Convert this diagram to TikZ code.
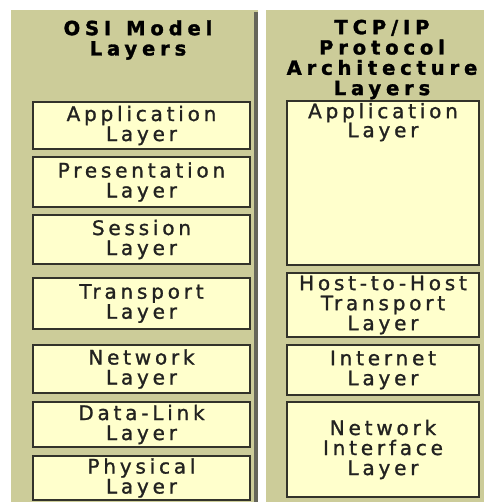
\documentclass[tikz,border=0pt]{standalone}
\usepackage{fontspec}
\newfontfamily\boxfont[LetterSpace=19,FakeBold=1.2]{DejaVu Sans}
\newfontfamily\titlefont[LetterSpace=25,FakeBold=1.6]{DejaVu Sans}
\definecolor{panel}{HTML}{CCCC99}
\definecolor{boxfill}{HTML}{FFFFCC}
\definecolor{edge}{HTML}{33332A}
\definecolor{stripe}{HTML}{66665A}
\definecolor{textc}{HTML}{222220}
\begin{document}
\begin{tikzpicture}[x=1pt,y=-1pt,
  panelbg/.style={fill=panel, draw=none},
  layerbox/.style={draw=edge, line width=1.6pt, fill=boxfill, inner sep=0pt,
    align=center, text=textc, font=\boxfont\fontsize{20}{20}\selectfont},
  lbl/.style={align=center, text=textc, inner sep=0pt, font=\boxfont\fontsize{20}{19}\selectfont},
  title/.style={align=center, text=black, inner sep=0pt, font=\titlefont\bfseries\fontsize{19.5}{20.3}\selectfont},
  osi/.style={layerbox, minimum width=217pt},
  tcp/.style={layerbox, minimum width=192pt}]
\useasboundingbox (0,0) rectangle (484,502);
\fill[white] (0,0) rectangle (484,502);
% panels
\path[panelbg] (11,10) rectangle (258,502);
\fill[stripe] (253.5,12) rectangle (257.5,502);
\path[panelbg] (266,10) rectangle (484,502);
% titles
\node[title] (osititle) at (138,40) {OSI~\,Model\\Layers};
\node[title] (tcptitle) at (382,59.5) {TCP/IP\\Protocol\\Architecture\\Layers};
% OSI layers
\node[osi, minimum height=47pt] (oapp)   at (141.5,125.5) {Application\\Layer};
\node[osi, minimum height=50pt] (opres)  at (141.5,182)   {Presentation\\Layer};
\node[osi, minimum height=49pt] (osess)  at (141.5,239.5) {Session\\Layer};
\node[osi, minimum height=51pt] (otrans) at (141.5,303.5) {Transport\\Layer};
\node[osi, minimum height=48pt] (onet)   at (141.5,369)   {Network\\Layer};
\node[osi, minimum height=45pt] (odl)    at (141.5,424.5) {Data-Link\\Layer};
\node[osi, minimum height=44pt] (ophys)  at (141.5,478)   {Physical\\Layer};
% TCP/IP layers
\node[tcp, minimum height=164pt] (tapp)  at (383,183) {};
\node[lbl] (tapplbl) at ([yshift=-22pt]tapp.north) {Application\\Layer};
\node[tcp, minimum height=64pt] (thost)  at (383,305)   {Host-to-Host\\Transport\\Layer};
\node[tcp, minimum height=50pt] (tint)   at (383,370)   {Internet\\Layer};
\node[tcp, minimum height=95pt] (tnif)   at (383,449.5) {Network\\Interface\\Layer};
\end{tikzpicture}
\end{document}
